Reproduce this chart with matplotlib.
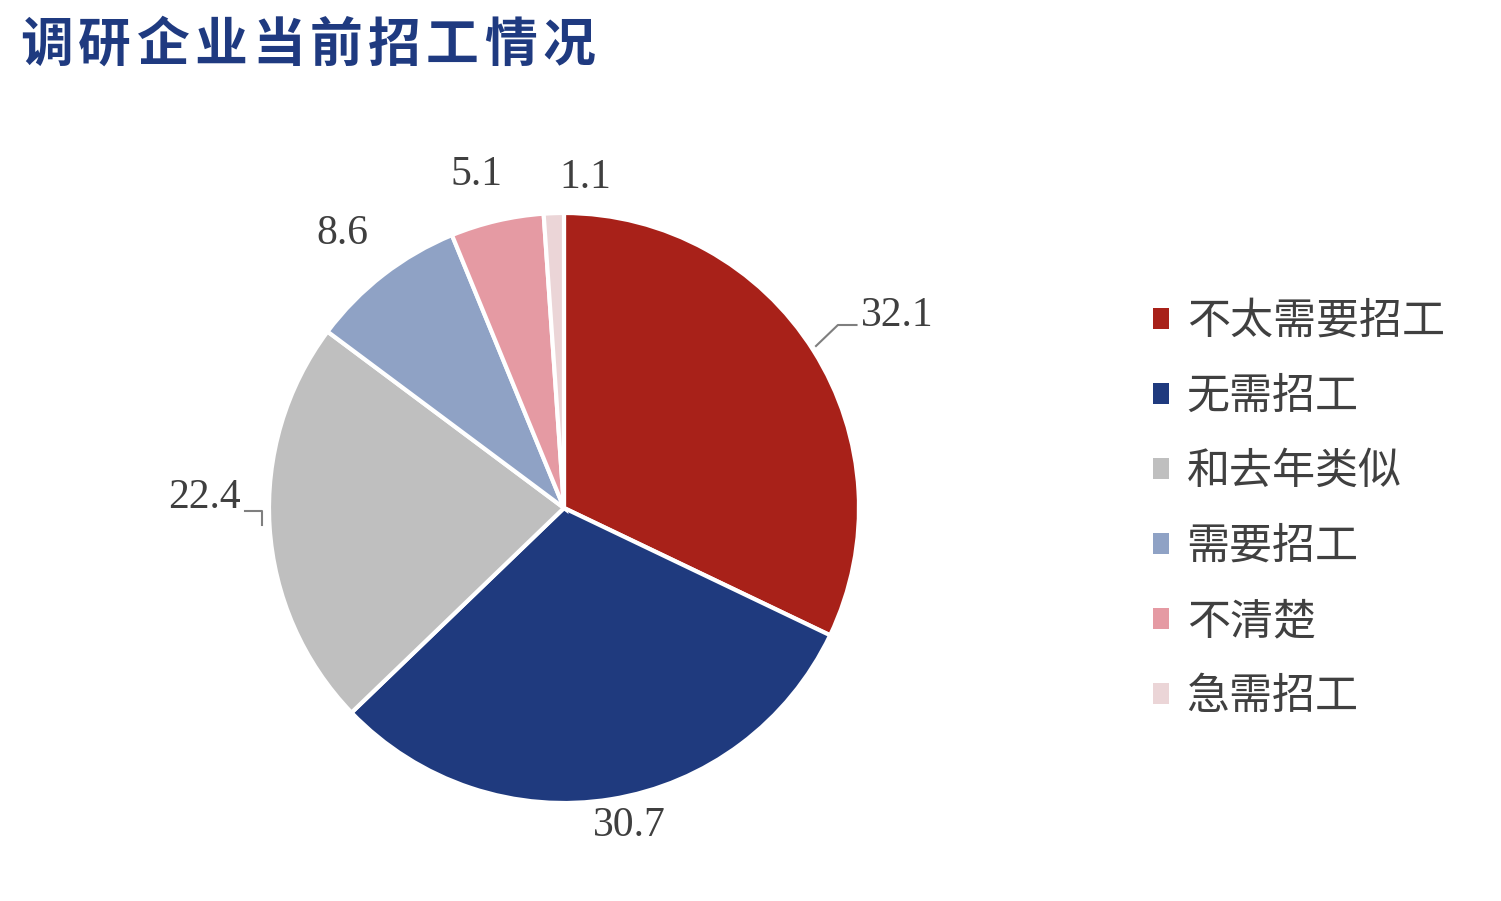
import numpy as np
import matplotlib
matplotlib.use("Agg")
import matplotlib.pyplot as plt
import matplotlib.patches as mpatches

plt.rcParams['font.family'] = ['Noto Sans CJK SC', 'DejaVu Sans']

# data
categories = ['不太需要招工', '无需招工', '和去年类似', '需要招工', '不清楚', '急需招工']
values = [32.1, 30.7, 22.4, 8.6, 5.1, 1.1]
colors = ['#A82119', '#1F3A7E', '#BFBFBF', '#8FA2C5', '#E59AA3', '#EBD5D7']
title = '调研企业当前招工情况'

# label placement (distance from centre in radii, small nudges)
label_dist = [1.30, 1.08, 1.22, 1.19, 1.17, 1.13]
label_nudge = [(0.03, -0.04), (0.05, -0.01), (0.0, 0.11), (-0.02, -0.01), (-0.03, -0.01), (0.11, -0.01)]

fig = plt.figure(figsize=(15.01, 9.01), dpi=100)
fig.patch.set_facecolor('white')

# pie axes: centre ~ (564, 508) px, radius ~ 295 px
ax = fig.add_axes([(564 - 300) / 1501, (901 - 508 - 300) / 901, 600 / 1501, 600 / 901])
R = 295 / 300
wedges, _ = ax.pie(values, colors=colors, startangle=90, counterclock=False,
                   radius=R, wedgeprops=dict(edgecolor='white', linewidth=3))
ax.set_xlim(-1, 1)
ax.set_ylim(-1, 1)
ax.set_aspect('equal')
ax.axis('off')

for w, v, d, (nx, ny) in zip(wedges, values, label_dist, label_nudge):
    mid = np.deg2rad((w.theta1 + w.theta2) / 2)
    x = R * d * np.cos(mid) + nx
    y = R * d * np.sin(mid) + ny
    ax.text(x, y, f'{v:.1f}', ha='center', va='center', fontsize=30,
            family='Liberation Serif', color='#3F3F3F', clip_on=False)

# leader lines for the two big labels
ax.plot([0.84, 0.913, 0.975], [0.54, 0.61, 0.61], color='#7F7F7F', lw=1.5, clip_on=False)
ax.plot([-1.063, -1.007, -1.007], [-0.01, -0.01, -0.057], color='#7F7F7F', lw=1.5, clip_on=False)

# title, spread out like the wide kai-style original
for i, ch in enumerate(title):
    fig.text((20 + 58 * i) / 1501, 1 - 45 / 901, ch, ha='left', va='center',
             fontsize=38, fontweight='bold', color='#1F3A80')

handles = [mpatches.Patch(facecolor=c, edgecolor='none') for c in colors]
leg = fig.legend(handles, categories, loc='upper left',
                 bbox_to_anchor=(1153 / 1501, 1 - 300 / 901),
                 frameon=False, fontsize=31, handlelength=0.36, handleheight=0.36,
                 handletextpad=0.42, labelspacing=0.72, borderpad=0, borderaxespad=0)
for t in leg.get_texts():
    t.set_color('#404040')

fig.savefig('out.png', dpi=100, facecolor='white')
